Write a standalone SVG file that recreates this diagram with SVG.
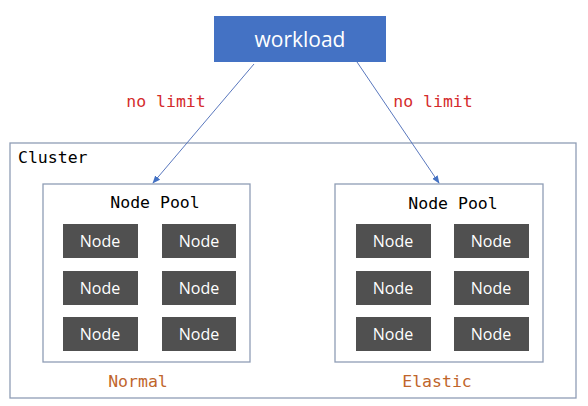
<svg xmlns="http://www.w3.org/2000/svg" width="588" height="406" viewBox="0 0 588 406">
<defs>
<style>
.box{fill:#ffffff;stroke:#8F9DB5;stroke-width:1.3}
.node{fill:#505050}
.nt{font-family:"Open Sans","Noto Sans",sans-serif;font-size:16px;fill:#ffffff;text-anchor:middle}
.mono{font-family:"DejaVu Sans Mono","Liberation Mono",monospace;font-size:16.5px}
.lbl{fill:#D42B2B;text-anchor:middle}
.edge{stroke:#5A78BE;stroke-width:1;fill:none;marker-end:url(#ah)}
</style>
<marker id="ah" viewBox="0 0 10 10" refX="9" refY="5" markerWidth="8" markerHeight="8" orient="auto" markerUnits="userSpaceOnUse">
<path d="M0,1 L10,5 L0,9 z" fill="#4472C4"/>
</marker>
</defs>
<rect width="588" height="406" fill="#ffffff"/>
<g id="cluster">
<rect class="box" x="10" y="143" width="566" height="255"/>
<text class="mono" x="18" y="163" fill="#000">Cluster</text>
</g>
<g id="workload">
<rect x="214" y="16" width="172" height="46" fill="#4472C4"/>
<text x="300" y="47" font-family="Open Sans,Noto Sans,sans-serif" font-size="21" fill="#ffffff" text-anchor="middle">workload</text>
</g>
<g id="pool-normal">
<rect class="box" x="43" y="184" width="207" height="178"/>
<text class="mono" x="155" y="208" text-anchor="middle" fill="#000">Node Pool</text>
<rect class="node" x="63" y="224" width="75" height="34"/><text class="nt" x="100" y="246.5">Node</text>
<rect class="node" x="162" y="224" width="74" height="34"/><text class="nt" x="199" y="246.5">Node</text>
<rect class="node" x="63" y="271" width="75" height="34"/><text class="nt" x="100" y="293.5">Node</text>
<rect class="node" x="162" y="271" width="74" height="34"/><text class="nt" x="199" y="293.5">Node</text>
<rect class="node" x="63" y="317" width="75" height="34"/><text class="nt" x="100" y="339.5">Node</text>
<rect class="node" x="162" y="317" width="74" height="34"/><text class="nt" x="199" y="339.5">Node</text>
<text class="mono" x="138" y="387" text-anchor="middle" fill="#C0652B">Normal</text>
</g>
<g id="pool-elastic">
<rect class="box" x="335" y="184" width="208" height="178"/>
<text class="mono" x="453" y="209" text-anchor="middle" fill="#000">Node Pool</text>
<rect class="node" x="356" y="224" width="75" height="34"/><text class="nt" x="393" y="246.5">Node</text>
<rect class="node" x="454" y="224" width="75" height="34"/><text class="nt" x="491" y="246.5">Node</text>
<rect class="node" x="356" y="271" width="75" height="34"/><text class="nt" x="393" y="293.5">Node</text>
<rect class="node" x="454" y="271" width="75" height="34"/><text class="nt" x="491" y="293.5">Node</text>
<rect class="node" x="356" y="317" width="75" height="34"/><text class="nt" x="393" y="339.5">Node</text>
<rect class="node" x="454" y="317" width="75" height="34"/><text class="nt" x="491" y="339.5">Node</text>
<text class="mono" x="437" y="387" text-anchor="middle" fill="#C0652B">Elastic</text>
</g>
<g id="connectors">
<line class="edge" x1="254" y1="64" x2="153" y2="183"/>
<line class="edge" x1="357" y1="62" x2="439" y2="183"/>
<text class="mono lbl" x="166" y="107">no limit</text>
<text class="mono lbl" x="433" y="107">no limit</text>
</g>
</svg>
